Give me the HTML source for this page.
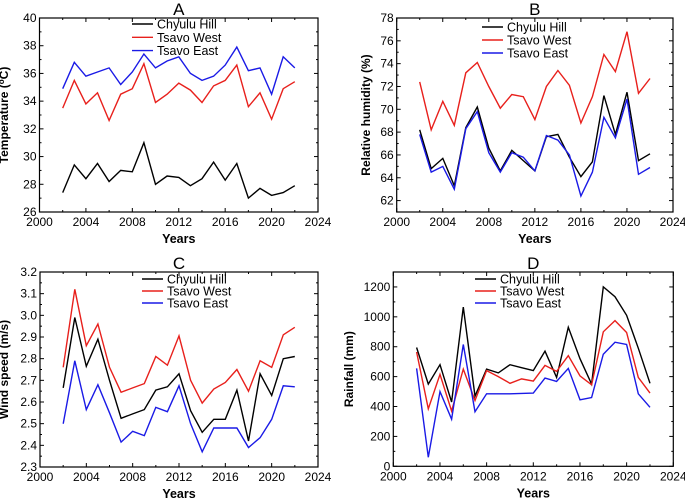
<!DOCTYPE html>
<html><head><meta charset="utf-8"><style>
html,body{margin:0;padding:0;background:#fff;width:685px;height:498px;overflow:hidden}
svg text{font-family:"Liberation Sans",Arial,sans-serif}
</style></head><body>
<svg id="fig" width="685" height="498" viewBox="0 0 685 498"></svg>
<script>
const years = [2002,2003,2004,2005,2006,2007,2008,2009,2010,2011,2012,2013,2014,2015,2016,2017,2018,2019,2020,2021,2022];
const seriesNames = ["Chyulu Hill","Tsavo West","Tsavo East"];
const tempChyulu = [27.4,29.4,28.4,29.5,28.2,29.0,28.9,31.0,28.0,28.6,28.5,27.9,28.4,29.6,28.3,29.5,27.0,27.7,27.2,27.4,27.9];
const tempWest = [33.5,35.5,33.8,34.6,32.6,34.5,34.9,36.7,33.9,34.5,35.3,34.8,33.9,35.1,35.5,36.6,33.6,34.6,32.7,34.9,35.4];
const tempEast = [34.9,36.8,35.8,36.1,36.4,35.2,36.1,37.4,36.4,36.9,37.2,36.0,35.5,35.8,36.6,37.9,36.2,36.4,34.5,37.2,36.4];
const rhChyulu = [68.2,64.8,65.7,63.3,68.4,70.2,66.6,64.6,66.4,65.5,64.6,67.6,67.8,65.8,64.1,65.4,71.2,67.8,71.5,65.5,66.1];
const rhWest = [72.4,68.2,70.7,68.6,73.2,74.1,72.0,70.1,71.3,71.1,69.1,72.0,73.4,72.1,68.8,71.1,74.8,73.3,76.8,71.4,72.7];
const rhEast = [67.8,64.5,65.0,63.0,68.3,69.8,66.2,64.5,66.2,65.8,64.6,67.7,67.3,66.0,62.4,64.5,69.3,67.5,70.9,64.3,64.9];
const windChyulu = [2.665,2.99,2.765,2.89,2.70,2.525,2.545,2.565,2.655,2.67,2.73,2.56,2.46,2.52,2.52,2.655,2.42,2.73,2.63,2.80,2.81];
const windWest = [2.76,3.12,2.86,2.96,2.76,2.645,2.665,2.685,2.81,2.77,2.905,2.70,2.595,2.66,2.69,2.75,2.65,2.79,2.76,2.91,2.945];
const windEast = [2.50,2.79,2.565,2.68,2.55,2.415,2.465,2.445,2.575,2.555,2.675,2.50,2.37,2.48,2.48,2.48,2.39,2.435,2.52,2.675,2.67];
const rainChyulu = [795,550,680,430,1065,470,650,625,680,660,640,770,595,930,720,550,1200,1135,1010,790,555];
const rainWest = [765,385,615,370,650,440,640,600,555,585,570,675,635,740,605,545,900,975,895,595,490];
const rainEast = [655,60,500,315,815,365,485,485,485,488,490,590,568,655,445,460,750,830,815,485,395];
const xTicks = [2000,2004,2008,2012,2016,2020,2024];
const tempTicks = [26,28,30,32,34,36,38,40];
const rhTicks = [62,64,66,68,70,72,74,76,78];
const windTicks = [2.3,2.4,2.5,2.6,2.7,2.8,2.9,3.0,3.1,3.2];
const rainTicks = [0,200,400,600,800,1000,1200];
const colors = ["#000000","#e8201c","#1a1ae6"];
const NS = "http://www.w3.org/2000/svg";
const svg = document.getElementById("fig");
function mk(tag, attrs, parent){const e=document.createElementNS(NS,tag);for(const k in attrs)e.setAttribute(k,attrs[k]);(parent||svg).appendChild(e);return e;}

function panel(o){
  const g = mk("g",{});
  
  
  const sx = v => o.L + (v-2000)/24*(o.R-o.L);
  const sy = v => o.B - (v-o.ymin)/(o.ymax-o.ymin)*(o.B-o.T);
  // frame
  const fr = mk("rect",{x:o.L,y:o.T,width:o.R-o.L,height:o.B-o.T,fill:"none",stroke:"#000","stroke-width":1.2},g);
  
  
  // x ticks
  xTicks.forEach((t,i)=>{
    const x=sx(t);
    mk("line",{x1:x,x2:x,y1:o.B,y2:o.B-4,stroke:"#000"},g);
    mk("line",{x1:x,x2:x,y1:o.T,y2:o.T+4,stroke:"#000"},g);
    if(i<xTicks.length-1){const xm=sx(t+2);
      mk("line",{x1:xm,x2:xm,y1:o.B,y2:o.B-2,stroke:"#000"},g);
      mk("line",{x1:xm,x2:xm,y1:o.T,y2:o.T+2,stroke:"#000"},g);}
    const tx=mk("text",{x:x,y:o.B+14,"font-size":12,"text-anchor":"middle"},g);
    tx.textContent=t;
    
    
  });
  o.ticks.forEach((t,i)=>{
    const y=sy(t);
    mk("line",{x1:o.L,x2:o.L+4,y1:y,y2:y,stroke:"#000"},g);
    mk("line",{x1:o.R,x2:o.R-4,y1:y,y2:y,stroke:"#000"},g);
    const step=o.ticks[1]-o.ticks[0];
    const ym=sy(t+step/2);
    if(ym>=o.T-0.5){
      mk("line",{x1:o.L,x2:o.L+2,y1:ym,y2:ym,stroke:"#000"},g);
      mk("line",{x1:o.R,x2:o.R-2,y1:ym,y2:ym,stroke:"#000"},g);}
    const ty=mk("text",{x:o.L-3,y:y+4,"font-size":12,"text-anchor":"end"},g);
    ty.textContent=o.fmt?o.fmt(t):t;
    
    
  });
  // series
  o.series.forEach((s,k)=>{
    const p=mk("polyline",{points:years.map((yr,i)=>sx(yr).toFixed(1)+","+sy(s[i]).toFixed(1)).join(" "),fill:"none",stroke:colors[k],"stroke-width":1.4,"stroke-linejoin":"miter"},g);
    
    
  });
  // legend
  seriesNames.forEach((n,k)=>{
    const y=o.legY+k*o.legDy;
    const ln=mk("line",{x1:o.legX,x2:o.legX+21,y1:y,y2:y,stroke:colors[k],"stroke-width":1.4},g);
    
    
    const lt=mk("text",{x:o.legX+25,y:y+4.5,"font-size":12.5},g);
    lt.textContent=n;
    
    
  });
  const ti=mk("text",{x:(o.L+o.R)/2,y:o.T-3,"font-size":17,"text-anchor":"middle"},g);
  ti.textContent=o.title;
  
  
  const xl=mk("text",{x:(o.L+o.R)/2,y:o.B+31,"font-size":12.5,"font-weight":"bold","text-anchor":"middle"},g);
  xl.textContent="Years";
  
  
  const yx=o.ylx, yy=(o.T+o.B)/2;
  const yl=mk("text",{x:yx,y:yy,"font-size":12,"font-weight":"bold","text-anchor":"middle",transform:"rotate(-90 "+yx+" "+yy+")"},g);
  if(o.ylabelHTML){yl.innerHTML=o.ylabelHTML;}else{yl.textContent=o.ylabel;}
  
  
}
panel({id:"temperature",title:"A",L:39.5,R:318,T:18,B:212,ymin:26,ymax:40,ticks:tempTicks,series:[tempChyulu,tempWest,tempEast],legX:132,legY:24,legDy:13.3,ylx:8,ylabelHTML:'Temperature (<tspan font-size="8" dy="-4">o</tspan><tspan dy="4">C)</tspan>'});
panel({id:"humidity",title:"B",L:396.7,R:673,T:18,B:212,ymin:61,ymax:78,ticks:rhTicks,series:[rhChyulu,rhWest,rhEast],legX:482,legY:27,legDy:13,ylx:370,ylabel:"Relative humidity (%)"});
panel({id:"wind",title:"C",L:40,R:318,T:272,B:467,ymin:2.3,ymax:3.2,ticks:windTicks,series:[windChyulu,windWest,windEast],legX:142,legY:279,legDy:12,ylx:8,ylabel:"Wind speed (m/s)",fmt:t=>t.toFixed(1)});
panel({id:"rainfall",title:"D",L:393.3,R:673.3,T:272,B:466.3,ymin:0,ymax:1300,ticks:rainTicks,series:[rainChyulu,rainWest,rainEast],legX:475,legY:279,legDy:12,ylx:353,ylabel:"Rainfall (mm)"});
</script>
</body></html>
